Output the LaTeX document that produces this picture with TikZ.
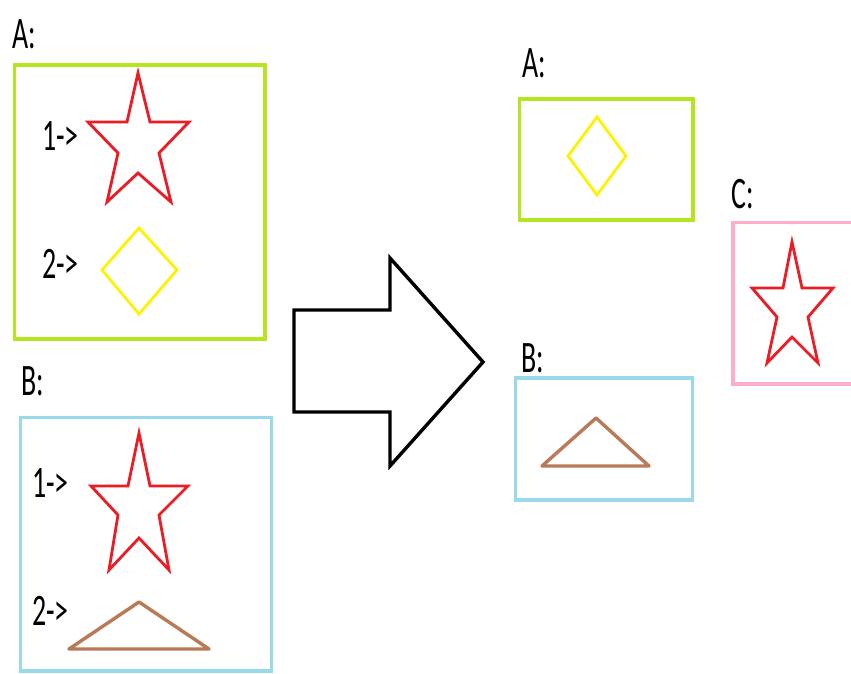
\documentclass[tikz,border=0pt]{standalone}
\usepackage{fontspec}
\setmainfont{Carlito}
\definecolor{paintlime}{HTML}{B5E61D}
\definecolor{paintred}{HTML}{ED1C24}
\definecolor{paintyellow}{HTML}{FFF200}
\definecolor{paintbrown}{HTML}{B97A57}
\definecolor{paintblue}{HTML}{99D9EA}
\definecolor{paintpink}{HTML}{FFAEC9}
\tikzset{
  label text/.style={inner sep=0pt, anchor=base west, font=\fontsize{45}{45}\selectfont},
  framebox/.style={line width=3.4pt},
  starline/.style={draw=paintred, line width=2.8pt, line join=miter},
  diamondline/.style={draw=paintyellow, line width=2.8pt},
  triline/.style={draw=paintbrown, line width=3.4pt, line join=round},
  bigarrow/.style={draw=black, line width=3.4pt, line join=miter, fill=white},
}
\newcommand{\narrow}[1]{\scalebox{0.62}[1]{#1}}
\begin{document}
\begin{tikzpicture}[x=1pt,y=-1pt]
  \clip (0,0) rectangle (851,673);
  \fill[white] (0,0) rectangle (851,673);

  % ---- left column: group A ----
  \node[label text] (lblA) at (12,48) {\narrow{A:}};
  \draw[framebox, draw=paintlime] (14.5,65) rectangle (265,339);
  \node[label text] (a1) at (42,150) {\narrow{1->}};
  \draw[starline] (138,73) -- (150,122) -- (189,122) -- (159,153) -- (171,202)
    -- (138,173) -- (107,202) -- (118,153) -- (88,122) -- (127,122) -- cycle;
  \node[label text] (a2) at (42,278) {\narrow{2->}};
  \draw[diamondline] (102,270) -- (139,228) -- (177,270) -- (139,314) -- cycle;

  % ---- left column: group B ----
  \node[label text] (lblB) at (21,395) {\narrow{B:}};
  \draw[framebox, draw=paintblue] (20.5,417.5) rectangle (271.5,671);
  \node[label text] (b1) at (32,497) {\narrow{1->}};
  \draw[starline] (139,433) -- (150,486) -- (188,486) -- (159,515) -- (169,570)
    -- (139,538) -- (109,570) -- (118,515) -- (91,486) -- (128,486) -- cycle;
  \node[label text] (b2) at (32,625) {\narrow{2->}};
  \draw[triline] (69,649) -- (139,602) -- (209,649) -- cycle;

  % ---- transition arrow ----
  \draw[bigarrow] (294,310) -- (390,310) -- (390,258) -- (483,362)
    -- (390,466) -- (390,412) -- (294,412) -- cycle;

  % ---- right column: group A ----
  \node[label text] (rA) at (522,77) {\narrow{A:}};
  \draw[framebox, draw=paintlime] (519.5,99) rectangle (693,220);
  \draw[diamondline] (568,156) -- (597,117) -- (626,156) -- (597,195) -- cycle;

  % ---- right column: group B ----
  \node[label text] (rB) at (521,372) {\narrow{B:}};
  \draw[framebox, draw=paintblue] (515.5,378) rectangle (692.5,500);
  \draw[triline] (542,466) -- (596,418) -- (649,466) -- cycle;

  % ---- right column: group C ----
  \node[label text] (rC) at (731,208) {\narrow{C:}};
  \draw[framebox, draw=paintpink] (733,222.5) rectangle (860,384);
  \draw[starline] (792,242) -- (802,288) -- (833,288) -- (808,317) -- (818,363)
    -- (792,337) -- (767,363) -- (777,317) -- (752,288) -- (783,288) -- cycle;
\end{tikzpicture}
\end{document}
